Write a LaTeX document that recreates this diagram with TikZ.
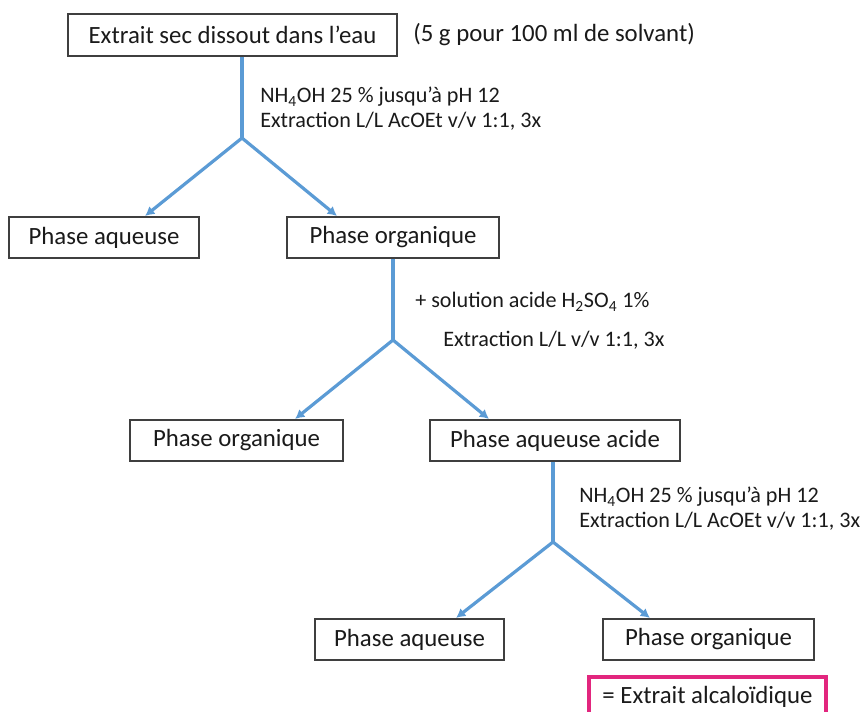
\documentclass[tikz,border=0pt]{standalone}
\usepackage{fontspec}
\setmainfont{Carlito}
\usetikzlibrary{arrows.meta,calc}
\definecolor{flowblue}{HTML}{5B9BD5}
\definecolor{boxgray}{HTML}{3F3F3F}
\definecolor{txtgray}{HTML}{1A1A1A}
\definecolor{pinkred}{RGB}{226,38,126}
\tikzset{
  stepbox/.style={draw=boxgray, line width=0.9pt, fill=white, inner sep=0pt,
    minimum height=0.75*41pt, text=txtgray, font=\fontsize{18.6}{22}\selectfont},
  notelabel/.style={anchor=west, inner sep=0pt, text=txtgray, font=\fontsize{16.6}{20}\selectfont},
  flowline/.style={draw=flowblue, line width=2.4pt},
  flowarrow/.style={flowline, -{Latex[length=7pt,width=7.5pt]}, shorten <=-1pt},
  resultbox/.style={draw=pinkred, line width=2.3pt, inner sep=0pt, text=txtgray,
    font=\fontsize{18.6}{22}\selectfont}
}
\begin{document}
\begin{tikzpicture}[x=0.75pt,y=-0.75pt]
\useasboundingbox (0,0) rectangle (867,711);
% boxes
\node[stepbox, minimum width=0.75*329pt, minimum height=0.75*42pt] (B1) at (232.5,35) {Extrait sec dissout dans l’eau};
\node[notelabel, font=\fontsize{18.6}{22}\selectfont] (N0) at (413,35) {(5 g pour 100 ml de solvant)};
\node[stepbox, minimum width=0.75*190pt] (A1) at (104,237.5) {Phase aqueuse};
\node[stepbox, minimum width=0.75*212pt] (O1) at (393,237.5) {Phase organique};
\node[stepbox, minimum width=0.75*213pt] (O2) at (236.5,440.5) {Phase organique};
\node[stepbox, minimum width=0.75*250pt] (AA) at (555,440.5) {Phase aqueuse acide};
\node[stepbox, minimum width=0.75*189pt] (A3) at (409.5,639.5) {Phase aqueuse};
\node[stepbox, minimum width=0.75*211pt] (O3) at (708.5,639.5) {Phase organique};
\node[resultbox, minimum width=0.75*237pt, minimum height=0.75*39pt] (P) at (707.5,696.5) {= Extrait alcaloïdique};
% labels
\node[notelabel] (L1a) at (260,97) {NH\textsubscript{4}OH 25 \% jusqu’à pH 12};
\node[notelabel] (L1b) at (260,121) {Extraction L/L AcOEt v/v 1:1, 3x};
\node[notelabel] (L2a) at (415,302) {+ solution acide H\textsubscript{2}SO\textsubscript{4} 1\%};
\node[notelabel] (L2b) at (443,340) {Extraction L/L v/v 1:1, 3x};
\node[notelabel] (L3a) at (579,497) {NH\textsubscript{4}OH 25 \% jusqu’à pH 12};
\node[notelabel] (L3b) at (579,521) {Extraction L/L AcOEt v/v 1:1, 3x};
% junctions and arrow tips
\coordinate (j1) at (242,138);
\coordinate (j2) at (393,340);
\coordinate (j3) at (553,542);
\coordinate (t1a) at (145,216);
\coordinate (t1b) at (337,216);
\coordinate (t2a) at (295,419);
\coordinate (t2b) at (489,419);
\coordinate (t3a) at (456,618);
\coordinate (t3b) at (650,618);
% connectors
\draw[flowline] (B1.south -| j1) -- (j1);
\draw[flowarrow] (j1) -- (t1a);
\draw[flowarrow] (j1) -- (t1b);
\draw[flowline] (O1.south -| j2) -- (j2);
\draw[flowarrow] (j2) -- (t2a);
\draw[flowarrow] (j2) -- (t2b);
\draw[flowline] (AA.south -| j3) -- (j3);
\draw[flowarrow] (j3) -- (t3a);
\draw[flowarrow] (j3) -- (t3b);
\end{tikzpicture}
\end{document}
